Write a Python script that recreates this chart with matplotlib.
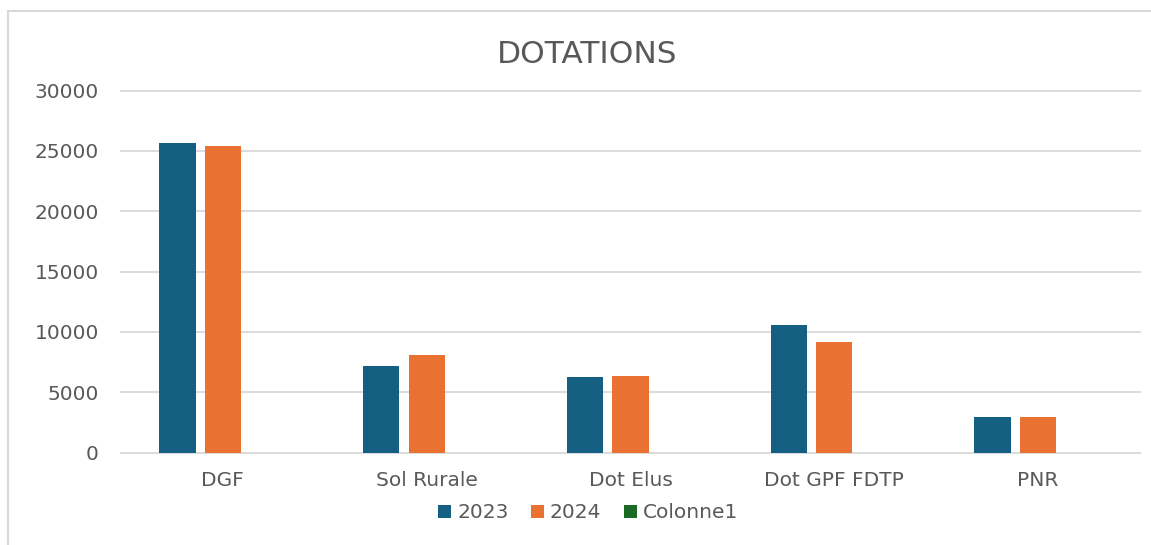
import matplotlib
matplotlib.use('Agg')
import matplotlib.pyplot as plt
from matplotlib.lines import Line2D
from matplotlib.patches import Patch
import numpy as np

# data
categories = ['DGF', 'Sol Rurale', 'Dot Elus', 'Dot GPF FDTP', 'PNR']
values_2023 = [25640, 7200, 6290, 10550, 2950]
values_2024 = [25410, 8090, 6370, 9190, 2950]
values_col1 = [0, 0, 0, 0, 0]   # empty series, still takes a slot in each group
series_names = ['2023', '2024', 'Colonne1']
yticks = [0, 5000, 10000, 15000, 20000, 25000, 30000]

colors = ['#156082', '#E97132', '#196B24']
text_col = '#595959'
grid_col = '#D9D9D9'

fig = plt.figure(figsize=(11.51, 5.45), dpi=100)
ax = fig.add_axes([0.1051, 0.1697, 0.8853, 0.6639])  # llx, lly, w, h

x = np.arange(len(categories))
width = 0.178
step = 0.223
for i, (vals, name) in enumerate(zip((values_2023, values_2024, values_col1),
                                     series_names)):
    ax.bar(x + (i - 1) * step, vals, width, color=colors[i],
           edgecolor='none', label=name, zorder=3)

ax.set_xlim(-0.5, len(categories) - 0.5)
ax.set_ylim(0, 30000)
ax.set_yticks(yticks)
ax.set_yticklabels([str(t) for t in yticks])
ax.set_xticks(x)
ax.set_xticklabels(categories)

ax.tick_params(axis='y', length=0, pad=16, labelsize=14.5, labelcolor=text_col)
ax.tick_params(axis='x', length=0, pad=13, labelsize=14.5, labelcolor=text_col)

for s in ax.spines.values():
    s.set_visible(False)
ax.yaxis.grid(True, color=grid_col, linewidth=1.3, zorder=0)
ax.set_axisbelow(True)
for gl in ax.get_ygridlines():
    gl.set_clip_on(False)

fig.text(0.51, 0.90, 'DOTATIONS', ha='center', va='center',
         fontsize=22.5, color=text_col)

handles = [Patch(facecolor=c, edgecolor='none') for c in colors]
fig.legend(handles, series_names, loc='center', bbox_to_anchor=(0.511, 0.059),
           ncol=3, frameon=False, fontsize=14.5, labelcolor=text_col,
           handlelength=0.65, handleheight=0.65, handletextpad=0.3,
           columnspacing=1.1, borderpad=0)

# chart area border (only left and top visible in the crop)
fig.add_artist(Line2D([8 / 1151, 8 / 1151], [0, 1 - 11 / 545],
                      transform=fig.transFigure, color=grid_col, lw=1.5))
fig.add_artist(Line2D([8 / 1151, 1], [1 - 11 / 545, 1 - 11 / 545],
                      transform=fig.transFigure, color=grid_col, lw=1.5))

fig.savefig('out.png', dpi=100)
